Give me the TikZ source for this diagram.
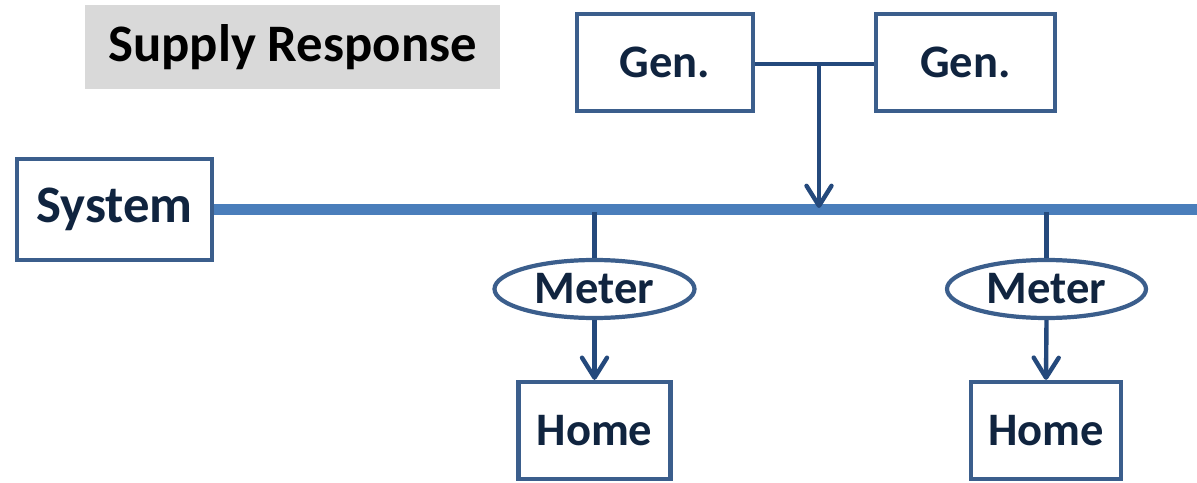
\documentclass[tikz,border=0pt]{standalone}
\usepackage{fontspec}
\setmainfont{Carlito}
\usetikzlibrary{arrows.meta,shapes.geometric}

\definecolor{boxline}{HTML}{3B5E8C}
\definecolor{wireline}{HTML}{24497C}
\definecolor{busline}{HTML}{4A7EBB}
\definecolor{labeltext}{HTML}{10243F}
\definecolor{titlefill}{HTML}{D9D9D9}

\tikzset{
    unit/.style={draw=boxline,line width=2.4pt,fill=white,inner sep=0pt,
        text=labeltext,font=\fontsize{26.5}{30}\selectfont\bfseries},
    meterbox/.style={unit,ellipse},
    wire/.style={draw=wireline,line width=2.5pt},
    feed/.style={wire,-{Straight Barb[round,length=0.4cm,width=0.5cm]}},
}

\begin{document}
\begin{tikzpicture}[x=0.02cm,y=-0.02cm]
    \useasboundingbox (0,0) rectangle (1197,483);

    % title
    \node[fill=titlefill,minimum width=415*0.02cm,minimum height=84*0.02cm,inner sep=0pt,
        font=\fontsize{30}{34}\selectfont\bfseries] (title) at (292.5,47) {Supply Response};

    % bus
    \node[unit,minimum width=195*0.02cm,minimum height=101*0.02cm,
        font=\fontsize{30}{34}\selectfont\bfseries] (sys) at (114.5,209.5) {System};
    \coordinate (busend) at (1197,209.5);
    \draw[busline,line width=6.2pt] (sys.east) -- (busend);

    % generators
    \node[unit,minimum width=176*0.02cm,minimum height=97*0.02cm] (gen1) at (665,62.5) {Gen.};
    \node[unit,minimum width=179*0.02cm,minimum height=97*0.02cm] (gen2) at (965.5,62.5) {Gen.};
    \coordinate (genjoin) at (819,64);
    \coordinate (genbus) at (819,208);
    \draw[wire] (gen1.east |- genjoin) -- (gen2.west |- genjoin);
    \draw[feed] (genjoin) -- (genbus);

    % meters and homes
    \node[meterbox,minimum width=200*0.02cm,minimum height=58*0.02cm] (meter1) at (594.5,289) {Meter};
    \node[meterbox,minimum width=199*0.02cm,minimum height=58*0.02cm] (meter2) at (1046.5,289) {Meter};
    \node[unit,minimum width=152*0.02cm,minimum height=97*0.02cm] (home1) at (594.5,430.5) {Home};
    \node[unit,minimum width=150*0.02cm,minimum height=97*0.02cm] (home2) at (1046,430.5) {Home};

    \coordinate (tap1) at (594.5,212);
    \coordinate (tap2) at (1046.5,212);
    \draw[wire] (tap1) -- (meter1.north);
    \draw[wire] (tap2) -- (meter2.north);
    \draw[feed] (meter1.south) -- (home1.north);
    \draw[feed] (meter2.south) -- (home2.north);

\end{tikzpicture}
\end{document}
